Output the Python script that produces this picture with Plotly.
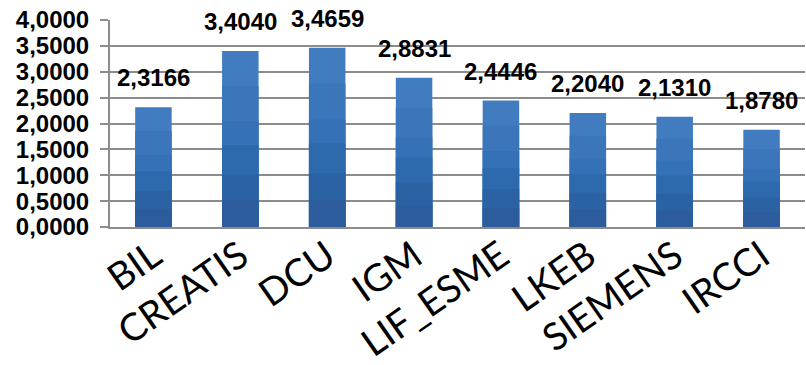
import plotly.graph_objects as go

categories = ["BIL", "CREATIS", "DCU", "IGM", "LIF_ESME", "LKEB", "SIEMENS", "IRCCI"]
values = [2.3166, 3.4040, 3.4659, 2.8831, 2.4446, 2.2040, 2.1310, 1.8780]
y_ticks = [0, 0.5, 1.0, 1.5, 2.0, 2.5, 3.0, 3.5, 4.0]

# vertical gradient shading (style only): fraction of bar height, colour
shade_fracs = [1.0, 0.8, 0.6, 0.465, 0.3, 0.15]
shade_cols = ["#417cc0", "#3b76bb", "#3571b6", "#2c69ad", "#2b62a4", "#2c5c9b"]

fig = go.Figure()
for f, col in zip(shade_fracs, shade_cols):
    fig.add_trace(go.Bar(
        x=categories, y=[v * f for v in values],
        marker=dict(color=col, line=dict(width=0)),
        width=0.42, hoverinfo="skip" if f < 1 else None,
    ))
for c, v in zip(categories, values):
    fig.add_annotation(
        x=c, y=v, text=f"{v:.4f}".replace(".", ","),
        showarrow=False, yanchor="bottom", yshift=14,
        font=dict(family="Liberation Sans", size=24, color="black", weight="bold"),
    )

fig.update_layout(
    width=806, height=365,
    margin=dict(l=110, r=1, t=20, b=138),
    paper_bgcolor="white", plot_bgcolor="white",
    separators=",.",
    showlegend=False, barmode="overlay",
    font=dict(family="Lato", color="black"),
)
fig.update_yaxes(
    range=[0, 4.001], tickvals=y_ticks, tickformat=".4f",
    showgrid=True, gridcolor="#8c8c8c", gridwidth=2,
    showline=True, linecolor="#8c8c8c", linewidth=2,
    ticks="outside", ticklen=8, tickcolor="#8c8c8c", tickwidth=2,
    ticklabelstandoff=6, ticklabeloverflow="allow",
    tickfont=dict(family="Liberation Sans", size=24, color="black", weight="bold"),
    zeroline=False, automargin=False,
)
fig.update_xaxes(
    showline=True, linecolor="#8c8c8c", linewidth=2,
    tickangle=-35, ticks="", automargin=False,
    ticklabelstandoff=-10, ticklabeloverflow="allow",
    tickfont=dict(family="Lato", size=38, color="black"),
)
fig.write_html(
    "out.html",
    config={"displayModeBar": False},
    post_script="document.body.style.margin='0';document.body.style.overflow='hidden';",
)
